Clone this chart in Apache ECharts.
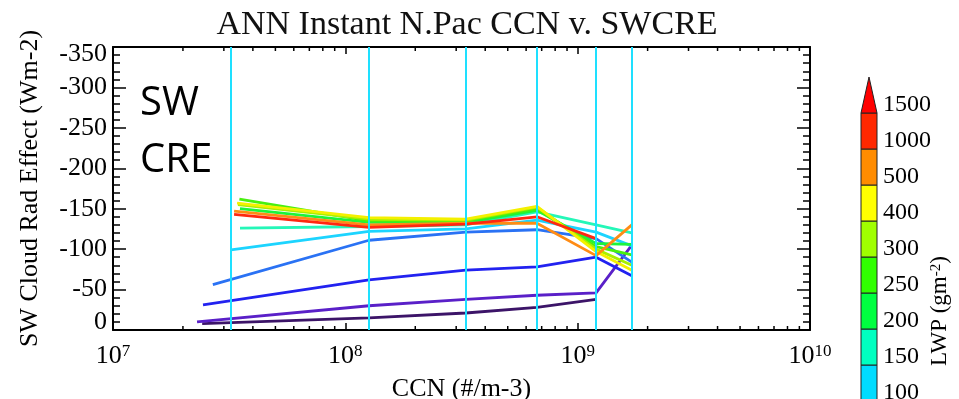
<!DOCTYPE html>
<html>
<head>
<meta charset="utf-8">
<script src="https://cdn.jsdelivr.net/npm/echarts@6/dist/echarts.min.js"></script>
<style>
html, body { margin: 0; padding: 0; background: #fff; }
#chart { width: 959px; height: 399px; }
</style>
</head>
<body>
<div id="chart"></div>
<script>
// CCN bin centres (#/m-3) used by every LWP class after its first point
const ccnCentres = [1.265e8, 3.30e8, 6.68e8, 1.20e9, 1.71e9];
// bin centres of the full sample, drawn as vertical guides
const ccnGuides = [3.22e7, 1.265e8, 3.30e8, 6.68e8, 1.20e9, 1.71e9];
// first CCN bin centre of each LWP class
const ccnFirst = [2.42e7, 2.30e7, 2.44e7, 2.69e7, 3.22e7, 3.52e7, 3.52e7, 3.50e7, 3.45e7, 3.42e7, 3.32e7, 3.32e7];

// LWP classes (g m-2) and their line colours
const lwpClasses = ['0-25', '25-50', '50-75', '75-100', '100-150', '150-200', '200-250', '250-300', '300-400', '400-500', '500-1000', '1000-1500'];
const lwpColors = ['#3c1468', '#5a20c8', '#2222f0', '#2a72f4', '#1cd4ff', '#24f7b8', '#1cf43c', '#48f010', '#a8f000', '#f4f000', '#ff8c14', '#ff2810'];

// SW cloud radiative effect (W m-2) per LWP class, one value per CCN bin
const swcre0 = [-8, -15, -21, -28, -38];
const swcre1 = [-10, -30, -38, -43, -46, -105];
const swcre2 = [-31, -62, -74, -78, -90, -67];
const swcre3 = [-56, -111, -121, -124, -113, -84];
const swcre4 = [-99, -122, -125, -136, -121, -104];
const swcre5 = [-126, -128, -130, -146, -130, -120];
const swcre6 = [-150, -133, -133, -148, -107, -106];
const swcre7 = [-162, -135, -135, -150, -103, -93];
const swcre8 = [-155, -137, -136, -152, -100, -80];
const swcre9 = [-157, -139, -137, -153, -97, -74];
const swcre10 = [-147, -130, -132, -132, -92, -130];
const swcre11 = [-143, -127, -131, -140, -113];
const swcreByClass = [swcre0, swcre1, swcre2, swcre3, swcre4, swcre5, swcre6, swcre7, swcre8, swcre9, swcre10, swcre11];

// y axis ticks
const yMin = -350, yMax = 0, yStep = 50;

// colour bar levels and fills
const cbarLabels = ['100', '150', '200', '250', '300', '400', '500', '1000', '1500'];
const cbarColors = ['#00dcff', '#00ffc0', '#00ff40', '#30ff00', '#a0ff00', '#ffff00', '#ff8c00', '#ff2800'];
const cbarTipColor = '#ff0000';

const SERIF = '"Liberation Serif", "DejaVu Serif", serif';

// minor log ticks, 2..9 per decade
const minorTicks = [];
for (let d = 7; d < 10; d++) {
  for (let m = 2; m <= 9; m++) minorTicks.push([m * Math.pow(10, d), 0]);
}

const chart = echarts.init(document.getElementById('chart'));

const lineSeries = swcreByClass.map((vals, i) => {
  const xs = [ccnFirst[i]].concat(ccnCentres);
  return {
    name: lwpClasses[i],
    type: 'line',
    xAxisIndex: 0,
    yAxisIndex: 0,
    data: vals.map((v, k) => [xs[k], v]),
    showSymbol: false,
    symbol: 'none',
    lineStyle: { color: lwpColors[i], width: 2.8 },
    itemStyle: { color: lwpColors[i] },
    z: 3,
    silent: true
  };
});

const xTickLabel = {
  formatter: v => '{b|10}{s|' + Math.round(Math.log10(v)) + '}',
  margin: 13,
  rich: {
    b: { fontFamily: SERIF, fontSize: 26, color: '#000', lineHeight: 26 },
    s: { fontFamily: SERIF, fontSize: 17, color: '#000', verticalAlign: 'top', lineHeight: 17 }
  }
};

const yTickLabel = {
  margin: 6,
  formatter: v => {
    if (v === yMin) return '{t|' + v + '}';
    if (v === yMax) return '{u|' + v + '}';
    return '{n|' + v + '}';
  },
  rich: {
    n: { fontFamily: SERIF, fontSize: 26, color: '#000' },
    t: { fontFamily: SERIF, fontSize: 26, color: '#000', padding: [14, 0, 0, 0] },
    u: { fontFamily: SERIF, fontSize: 26, color: '#000', padding: [0, 0, 16, 0] }
  }
};

const frameLine = { show: true, onZero: false, lineStyle: { color: '#000', width: 2 } };

const option = {
  animation: false,
  backgroundColor: '#fff',
  title: {
    text: 'ANN Instant N.Pac CCN v. SWCRE',
    left: 462,
    top: 3,
    textAlign: 'center',
    textStyle: { fontFamily: SERIF, fontSize: 34, fontWeight: 'normal', color: '#111' }
  },
  grid: [
    { left: 113, top: 47, width: 697, height: 283, outerBoundsMode: 'none', containLabel: false },
    { left: 861, top: 113, width: 16, height: 288, outerBoundsMode: 'none', containLabel: false }
  ],
  xAxis: [
    {
      type: 'log', logBase: 10, min: 1e7, max: 1e10, gridIndex: 0, position: 'bottom',
      axisLine: frameLine,
      axisTick: { show: true, inside: true, length: 7, lineStyle: { color: '#000', width: 1.5 } },
      axisLabel: xTickLabel,
      splitLine: { show: false },
      name: 'CCN (#/m-3)', nameLocation: 'middle', nameGap: 46,
      nameTextStyle: { fontFamily: SERIF, fontSize: 26, color: '#000' }
    },
    {
      type: 'log', logBase: 10, min: 1e7, max: 1e10, gridIndex: 0, position: 'top',
      axisLine: frameLine,
      axisTick: { show: true, inside: true, length: 7, lineStyle: { color: '#000', width: 1.5 } },
      axisLabel: { show: false },
      splitLine: { show: false }
    },
    {
      type: 'value', min: 0, max: 1, gridIndex: 1, show: false
    }
  ],
  yAxis: [
    {
      type: 'value', inverse: true, min: yMin, max: yMax, interval: yStep, gridIndex: 0, position: 'left',
      axisLine: frameLine,
      axisTick: { show: true, inside: true, length: 13, lineStyle: { color: '#000', width: 1.5 } },
      minorTick: { show: true, splitNumber: 5, length: 7, lineStyle: { color: '#000', width: 1.5 } },
      axisLabel: yTickLabel,
      splitLine: { show: false },
      name: 'SW Cloud Rad Effect (Wm-2)', nameLocation: 'middle', nameGap: 70, nameRotate: 90,
      nameTextStyle: { fontFamily: SERIF, fontSize: 26, color: '#000' }
    },
    {
      type: 'value', inverse: true, min: yMin, max: yMax, interval: yStep, gridIndex: 0, position: 'right',
      axisLine: frameLine,
      axisTick: { show: true, inside: true, length: 13, lineStyle: { color: '#000', width: 1.5 } },
      minorTick: { show: true, splitNumber: 5, length: 7, lineStyle: { color: '#000', width: 1.5 } },
      axisLabel: { show: false },
      splitLine: { show: false }
    },
    {
      type: 'value', min: 0, max: cbarLabels.length - 1, interval: 1, gridIndex: 1, position: 'right',
      axisLine: { show: false },
      axisTick: { show: false },
      splitLine: { show: false },
      axisLabel: {
        margin: 6,
        formatter: v => '{a|' + (cbarLabels[v] || '') + '}',
        rich: {
          a: { fontFamily: SERIF, fontSize: 24, color: '#000', padding: [0, 0, 16, 0] }
        }
      }
    }
  ],
  graphic: [
    {
      type: 'text', x: 140, y: 104,
      style: { text: 'SW', font: '40px "Open Sans"', fill: '#000', verticalAlign: 'middle' }
    },
    {
      type: 'text', x: 140, y: 161,
      style: { text: 'CRE', font: '40px "Open Sans"', fill: '#000', verticalAlign: 'middle' }
    },
    {
      type: 'text', x: 940, y: 311, rotation: Math.PI / 2,
      style: {
        text: 'LWP (gm{sup|-2})',
        align: 'center', verticalAlign: 'middle',
        fontFamily: SERIF, fontSize: 23, fill: '#000',
        rich: { sup: { fontFamily: SERIF, fontSize: 15, fill: '#000', verticalAlign: 'top' } }
      }
    }
  ],
  series: lineSeries.concat([
    {
      // vertical guides at the full-sample bin centres
      type: 'line', xAxisIndex: 0, yAxisIndex: 0, data: [], silent: true, z: 5,
      markLine: {
        silent: true, symbol: ['none', 'none'], label: { show: false },
        lineStyle: { color: '#1ee0ff', width: 2, type: 'solid' },
        emphasis: { disabled: true },
        data: ccnGuides.map(v => ({ xAxis: v }))
      }
    },
    {
      // minor log ticks on the bottom and top frame
      type: 'custom', xAxisIndex: 0, yAxisIndex: 0, data: minorTicks, silent: true, clip: false, z: 6,
      encode: { x: 0, y: 1 },
      renderItem: (params, api) => {
        const cs = params.coordSys;
        const x = api.coord([api.value(0), yMax])[0];
        const yb = cs.y + cs.height;
        return {
          type: 'group',
          children: [
            { type: 'line', shape: { x1: x, y1: yb, x2: x, y2: yb - 4 }, style: { stroke: '#000', lineWidth: 1.5 } },
            { type: 'line', shape: { x1: x, y1: cs.y, x2: x, y2: cs.y + 4 }, style: { stroke: '#000', lineWidth: 1.5 } }
          ]
        };
      }
    },
    {
      // colour bar: one filled block per LWP level, arrow on top
      type: 'custom', xAxisIndex: 2, yAxisIndex: 2, silent: true, clip: false, z: 4,
      data: cbarColors.map((c, i) => [0, i]),
      encode: { x: 0, y: 1 },
      renderItem: (params, api) => {
        const i = api.value(1);
        const p0 = api.coord([0, i]);
        const p1 = api.coord([1, i + 1]);
        const children = [{
          type: 'rect',
          shape: { x: p0[0], y: p1[1], width: p1[0] - p0[0], height: p0[1] - p1[1] },
          style: { fill: cbarColors[i], stroke: '#222', lineWidth: 1 }
        }];
        if (i === cbarColors.length - 1) {
          const tip = api.coord([0.5, i + 2]);
          children.push({
            type: 'polygon',
            shape: { points: [[p0[0], p1[1]], [p1[0], p1[1]], [tip[0], tip[1]]] },
            style: { fill: cbarTipColor, stroke: '#222', lineWidth: 1 }
          });
        }
        return { type: 'group', children };
      }
    }
  ])
};

chart.setOption(option);
</script>
</body>
</html>
